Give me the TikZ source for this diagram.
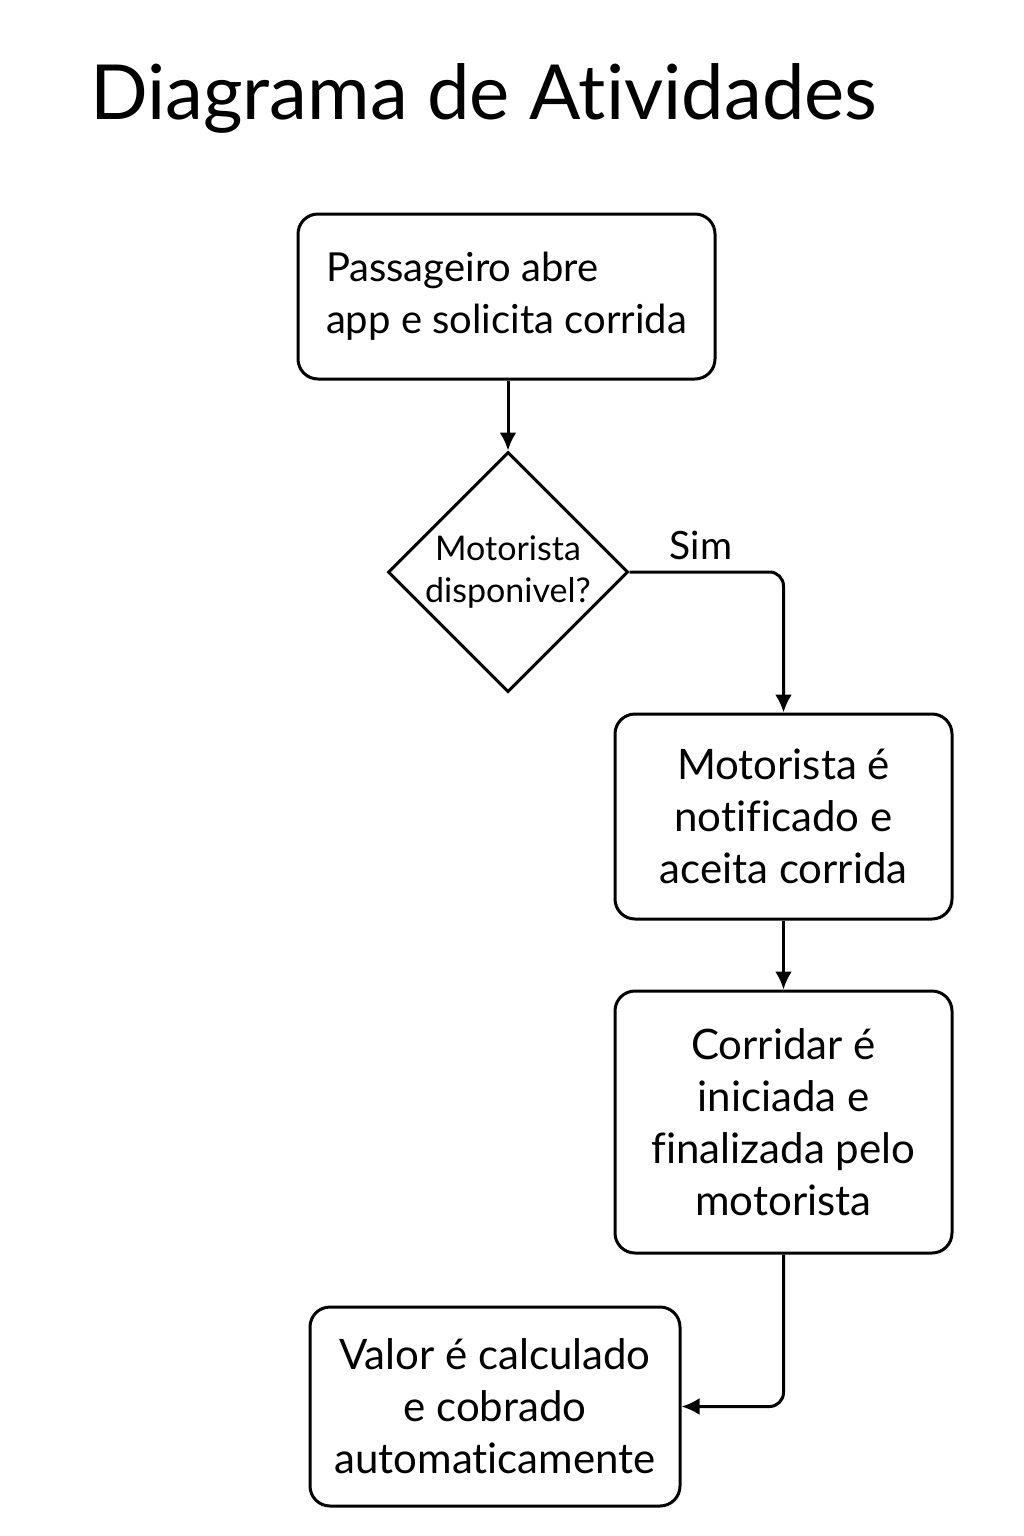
\documentclass[tikz,border=0pt]{standalone}
\usepackage{fontspec}
\setmainfont{Lato}[Ligatures = NoCommon]
\usetikzlibrary{arrows.meta}
\usetikzlibrary{shapes.geometric}
\tikzset{activity/.style = {draw, rounded corners = 20pt, line width = 3pt, align = center,
                            inner sep = 0, font = \fontsize{42}{52}\selectfont}}
\tikzset{decision/.style = {draw, diamond, aspect = 1, line width = 3pt, inner sep = 0,
                            align = center, font = \fontsize{34}{42}\selectfont}}
\tikzset{flow/.style = {line width = 3pt, -{Latex[length = 18pt, width = 17pt]}}}

\begin{document}
\begin{tikzpicture}[x = 1pt, y = -1pt]
      \useasboundingbox (0, 0) rectangle (1024, 1536);
      \node [anchor = base west, inner sep = 0, font = \fontsize{76}{84}\selectfont] (titulo) at (90, 120) {Diagrama de Atividades};

      \node [activity, align = left, minimum width = 417pt, minimum height = 165pt, font = \fontsize{40}{52}\selectfont] (pedido) at (506.5, 296.5) {Passageiro abre\\app e solicita corrida};
      \node [decision, minimum width = 240pt, minimum height = 240pt] (disp) at (508, 572) {Motorista\\disponivel?};
      \node [font = \fontsize{39}{44}\selectfont] (sim) at (701, 545) {Sim};
      \node [activity, minimum width = 337pt, minimum height = 205pt] (notif) at (783.5, 816.5) {Motorista é\\notificado e\\aceita corrida};
      \node [activity, minimum width = 337pt, minimum height = 262pt] (corrida) at (783.5, 1122) {Corridar é\\iniciada e\\finalizada pelo\\motorista};
      \node [activity, minimum width = 370pt, minimum height = 199pt] (valor) at (495, 1406.5) {Valor é calculado\\e cobrado\\automaticamente};

      \draw [flow] (pedido.south -| disp.north) -- (disp.north);
      \draw [flow, rounded corners = 14pt] (disp.east) -| (notif.north);
      \draw [flow] (notif) -- (corrida);
      \draw [flow, rounded corners = 14pt] (corrida.south) |- (valor.east);
\end{tikzpicture}
\end{document}
